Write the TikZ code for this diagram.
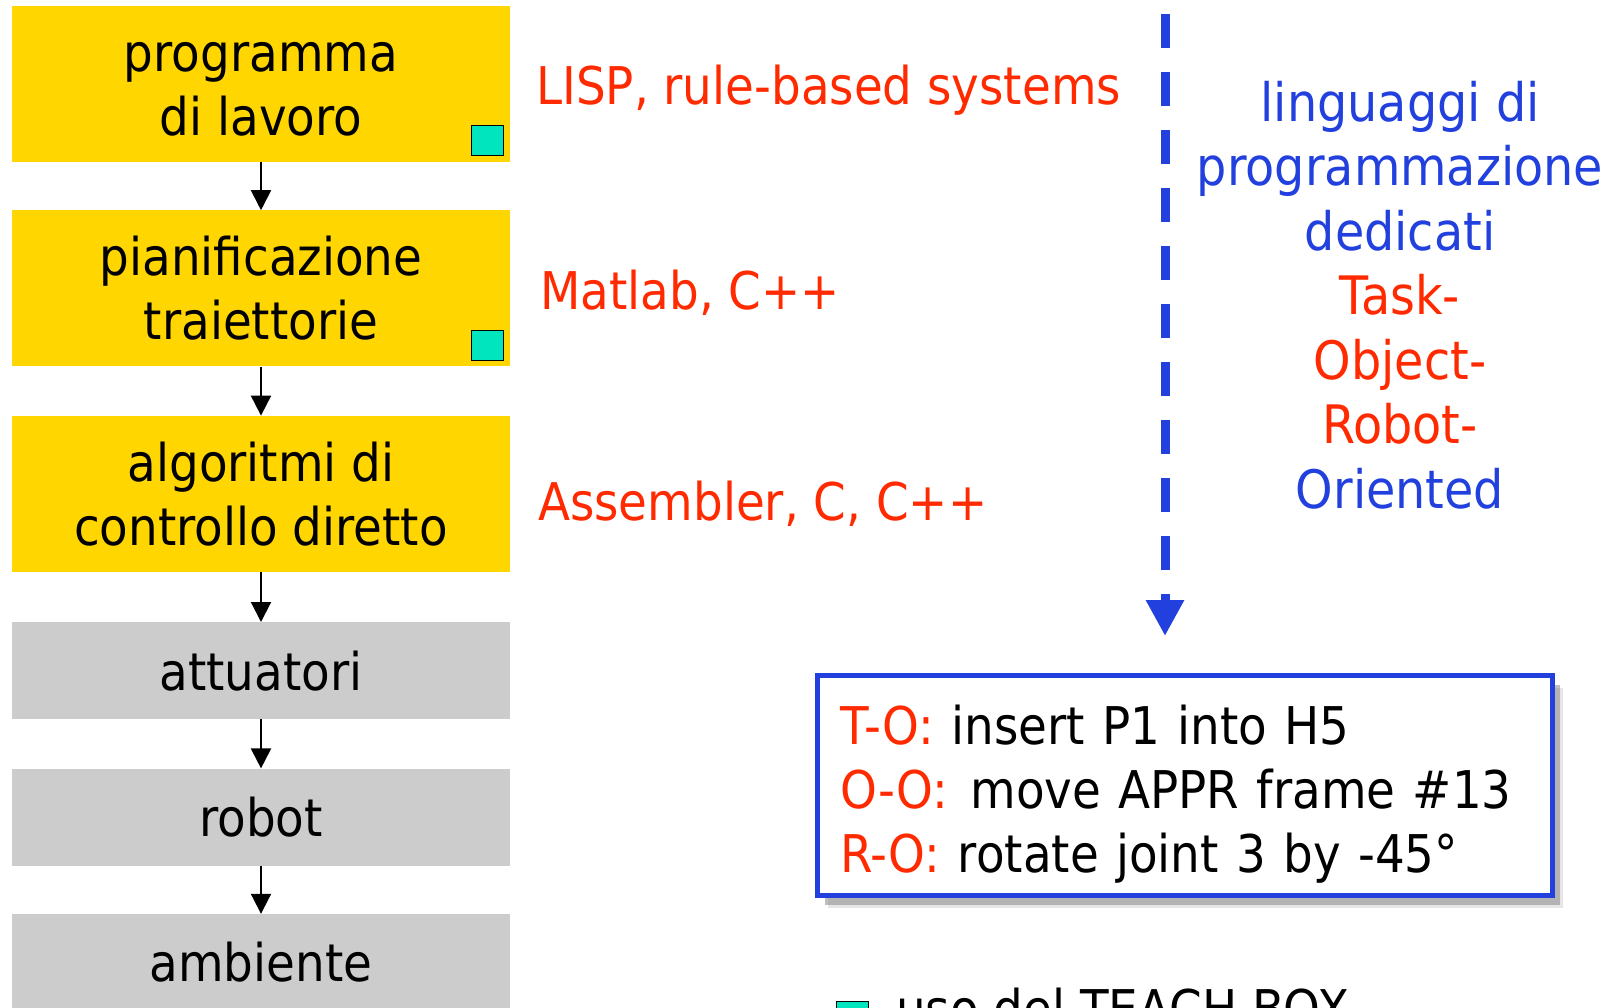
\documentclass[tikz,border=0pt]{standalone}
\usepackage{fontspec}
\setmainfont{DejaVu Sans}[FakeStretch=0.9]
\usetikzlibrary{arrows.meta, positioning, shadows}
\definecolor{boxyellow}{RGB}{255,214,0}
\definecolor{boxgray}{RGB}{204,204,204}
\definecolor{teachcyan}{RGB}{0,229,190}
\definecolor{langred}{RGB}{255,42,0}
\definecolor{langblue}{RGB}{34,64,221}
\newcommand{\bigfont}{\fontsize{52}{64}\selectfont}
\tikzset{
  ybox/.style  = {fill=boxyellow, minimum width=498pt, minimum height=156pt,
                  align=center, font=\bigfont, inner sep=0pt},
  gbox/.style  = {fill=boxgray, minimum width=498pt, minimum height=97pt,
                  font=\bigfont, inner sep=0pt},
  tbox/.style  = {draw=black, fill=teachcyan, minimum width=32pt,
                  minimum height=30pt, inner sep=0pt, line width=1pt},
  flow/.style  = {-{Triangle[width=20pt, length=20pt]}, line width=2pt},
  lang/.style  = {text=langred, font=\bigfont, anchor=base west, inner sep=0pt},
  exbox/.style = {draw=langblue, line width=5pt, fill=white,
                  drop shadow={shadow xshift=11pt, shadow yshift=-13pt, opacity=0.2},
                  drop shadow={shadow xshift=8pt, shadow yshift=-10pt, opacity=0.5},
                  minimum width=735pt, minimum height=220pt, text width=689pt,
                  align=left, font=\bigfont, inner sep=0pt},
}

\begin{document}
\begin{tikzpicture}[x=1pt, y=-1pt]
  \useasboundingbox (0,0) rectangle (1617,1007);
  \clip (0,0) rectangle (1617,1007);
  % control hierarchy
  \node[ybox] (prog) at (261,84) {\vphantom{d}programma\\di lavoro};
  \node[ybox, below=48pt of prog] (traj) {pianificazione\\traiettorie};
  \node[ybox, below=49pt of traj] (ctrl) {algoritmi di\\controllo diretto};
  \node[gbox, below=50pt of ctrl] (att) {attuatori};
  \node[gbox, below=49pt of att] (rob) {robot};
  \node[gbox, below=48pt of rob] (amb) {ambiente};
  \node[tbox, anchor=south east] (tb1) at ([xshift=-6pt, yshift=6pt]prog.south east) {};
  \node[tbox, anchor=south east] (tb2) at ([xshift=-6pt, yshift=6pt]traj.south east) {};
  \foreach \a/\b in {prog/traj, traj/ctrl, ctrl/att, att/rob, rob/amb} {
    \draw[flow] (\a) -- (\b);
  }

  % languages
  \node[lang] (lisp) at (536,104) {LISP, rule-based systems};
  \node[lang] (matlab) at (540,309) {Matlab, C++};
  \node[lang] (asm) at (538,520) {Assembler, C, C++};

  \coordinate (dtop) at (1165,14);
  \coordinate (dtip) at (1165,636);
  \draw[langblue, line width=9pt, dash pattern=on 34pt off 24pt,
        -{Triangle[width=36pt, length=36pt]}] (dtop) -- (dtip);
  \node[align=center, font=\fontsize{53}{64.5}\selectfont, anchor=north, inner sep=0pt]
    (levels) at (1400,81)
    {\textcolor{langblue}{linguaggi di}\\\textcolor{langblue}{programmazione}\\
     \textcolor{langblue}{dedicati}\\\textcolor{langred}{Task-}\\
     \textcolor{langred}{Object-}\\\textcolor{langred}{Robot-}\\
     \textcolor{langblue}{Oriented}};

  % examples
  \node[exbox] (ex) at (1184.5,785)
    {\rule{0pt}{58pt}\textcolor{langred}{T-O:} insert P1 into H5\\
     \textcolor{langred}{O-O:}\hspace{5pt} move APPR frame \#13\\
     \textcolor{langred}{R-O:} rotate joint 3 by -45°};

  \node[tbox] (tbleg) at (852.5,1016) {};
  \node[font=\bigfont, anchor=base west, inner sep=0pt] (teach) at (896,1027)
    {uso del TEACH BOX};
\end{tikzpicture}
\end{document}
